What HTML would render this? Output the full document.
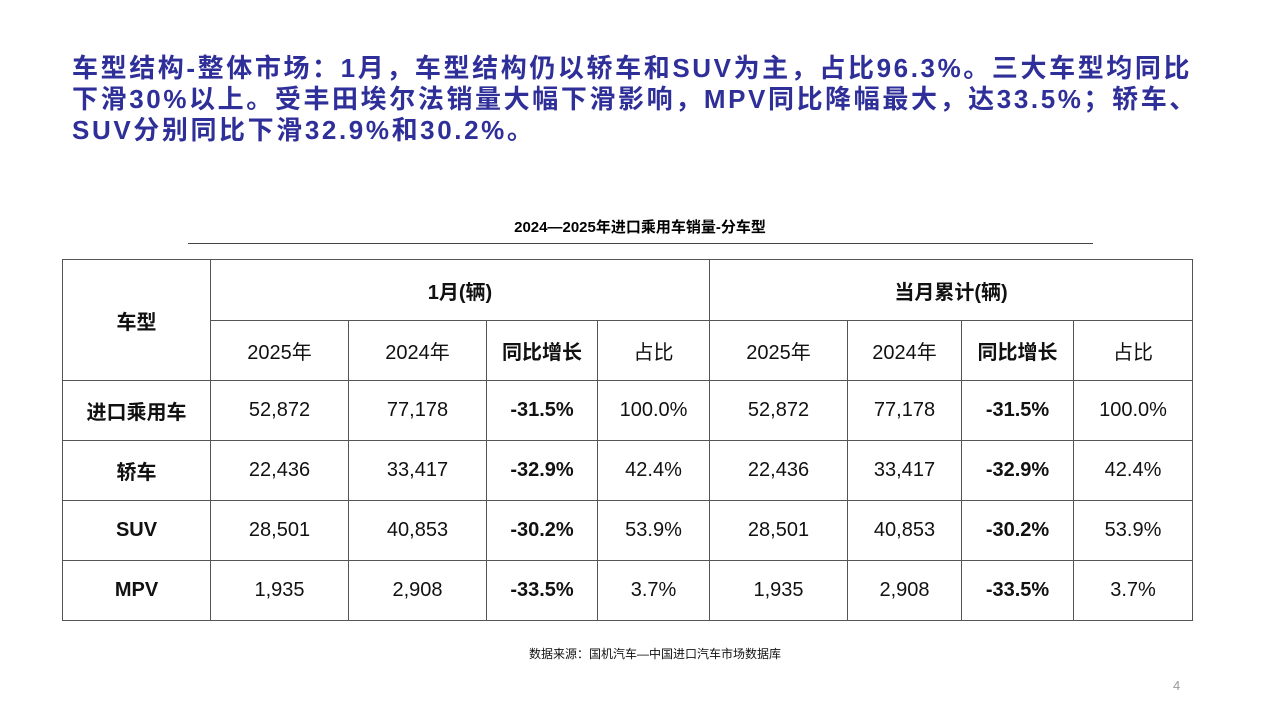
<!DOCTYPE html>
<html><head><meta charset="utf-8"><style>
body{margin:0;width:1280px;height:720px;background:#fff;position:relative;overflow:hidden;font-family:"Liberation Sans","Noto Sans CJK SC",sans-serif;}
.t{position:absolute;left:72px;top:53px;width:1180px;color:#2f2f9a;font-weight:bold;font-size:26px;line-height:31px;white-space:nowrap;letter-spacing:2.6px}
.cap{position:absolute;left:0;width:1280px;top:216px;text-align:center;font-weight:bold;font-size:15px;color:#000}
.ln{position:absolute;left:188px;top:243px;width:905px;height:1px;background:#444}
table{position:absolute;left:62px;top:259px;border-collapse:collapse;}
td{border:1.5px solid #555;text-align:center;font-size:20px;color:#111;padding:0;height:59px}
.b{font-weight:bold}
.src{position:absolute;left:0;width:1310px;top:645px;text-align:center;font-size:12px;color:#111}
.pg{position:absolute;left:1173px;top:678px;font-size:13px;color:#999}
</style></head><body>
<div class="t">车型结构-整体市场：1月，车型结构仍以轿车和SUV为主，占比96.3%。三大车型均同比<br>下滑30%以上。受丰田埃尔法销量大幅下滑影响，MPV同比降幅最大，达33.5%；轿车、<br>SUV分别同比下滑32.9%和30.2%。</div>
<div class="cap">2024—2025年进口乘用车销量-分车型</div>
<div class="ln"></div>
<table>
<colgroup><col style="width:148px"><col style="width:138px"><col style="width:138px"><col style="width:111px"><col style="width:112px"><col style="width:138px"><col style="width:114px"><col style="width:112px"><col style="width:119px"></colgroup>
<tr><td rowspan="2" class="b">车型</td><td colspan="4" class="b" style="height:60px">1月(辆)</td><td colspan="4" class="b">当月累计(辆)</td></tr>
<tr><td>2025年</td><td>2024年</td><td class="b">同比增长</td><td>占比</td><td>2025年</td><td>2024年</td><td class="b">同比增长</td><td>占比</td></tr>
<tr><td class="b">进口乘用车</td><td>52,872</td><td>77,178</td><td class="b">-31.5%</td><td>100.0%</td><td>52,872</td><td>77,178</td><td class="b">-31.5%</td><td>100.0%</td></tr>
<tr><td class="b">轿车</td><td>22,436</td><td>33,417</td><td class="b">-32.9%</td><td>42.4%</td><td>22,436</td><td>33,417</td><td class="b">-32.9%</td><td>42.4%</td></tr>
<tr><td class="b">SUV</td><td>28,501</td><td>40,853</td><td class="b">-30.2%</td><td>53.9%</td><td>28,501</td><td>40,853</td><td class="b">-30.2%</td><td>53.9%</td></tr>
<tr><td class="b">MPV</td><td>1,935</td><td>2,908</td><td class="b">-33.5%</td><td>3.7%</td><td>1,935</td><td>2,908</td><td class="b">-33.5%</td><td>3.7%</td></tr>
</table>
<div class="src">数据来源：国机汽车—中国进口汽车市场数据库</div>
<div class="pg">4</div>
</body></html>
